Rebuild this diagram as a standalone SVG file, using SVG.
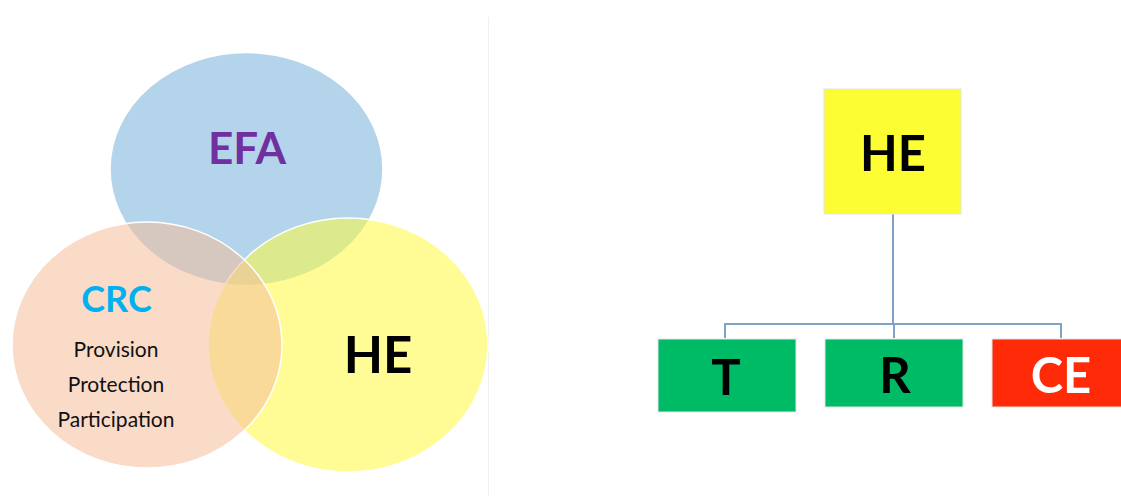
<svg xmlns="http://www.w3.org/2000/svg" width="1121" height="496" viewBox="0 0 1121 496">
<style>
.t{font-family:Lato,"Open Sans","Liberation Sans",sans-serif;text-anchor:middle}
.b{font-weight:bold}
.edge{stroke:#ffffff;stroke-width:1.5}
.box{stroke:#e4e4e4;stroke-width:1}
.conn{fill:none;stroke:#7EA3C6;stroke-width:2}
</style>
<rect width="1121" height="496" fill="#ffffff"/>
<line x1="488.5" y1="17" x2="488.5" y2="496" stroke="#f0f0f0" stroke-width="1"/>
<g id="venn-efa">
<ellipse cx="246.5" cy="169" rx="136.5" ry="116.5" fill="#B4D4EC" class="edge"/>
</g>
<g id="venn-he">
<ellipse cx="348" cy="345" rx="140" ry="127" fill="#FFF940" fill-opacity="0.55" class="edge"/>
</g>
<g id="venn-crc">
<ellipse cx="147" cy="345" rx="135" ry="123" fill="#F4BD9A" fill-opacity="0.55" class="edge"/>
</g>
<g id="venn-labels">
<text x="247" y="164" class="t b" font-size="44" fill="#7030A0">EFA</text>
<text x="116.5" y="312" class="t b" font-size="36" fill="#00B0F0">CRC</text>
<text x="116" y="357" class="t" font-size="21" fill="#111111">Provision</text>
<text x="116" y="392" class="t" font-size="21" fill="#111111">Protection</text>
<text x="116" y="427" class="t" font-size="21" fill="#111111">Participation</text>
<text x="378" y="373" class="t b" font-size="51" fill="#000000">HE</text>
</g>
<g id="connectors">
<path class="conn" d="M893 214 V324 M725 338 V324 H1061 V338 M894 324 V338"/>
</g>
<g id="node-he">
<rect x="824" y="89" width="137" height="125" fill="#FDFD33" class="box"/>
<text x="893" y="171" class="t b" font-size="49" fill="#000000">HE</text>
</g>
<g id="node-t">
<rect x="658" y="339" width="138" height="73" fill="#00BB66" class="box"/>
<text x="726" y="395" class="t b" font-size="49" fill="#000000">T</text>
</g>
<g id="node-r">
<rect x="825" y="339" width="138" height="68" fill="#00BB66" class="box"/>
<text x="895" y="393" class="t b" font-size="49" fill="#000000">R</text>
</g>
<g id="node-ce">
<rect x="992" y="339" width="130" height="68" fill="#FF2A08" class="box"/>
<text x="1061" y="393" class="t b" font-size="49" fill="#ffffff">CE</text>
</g>
</svg>
